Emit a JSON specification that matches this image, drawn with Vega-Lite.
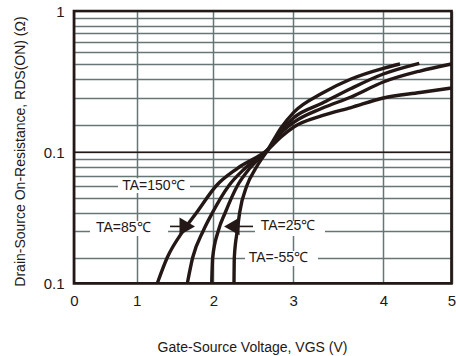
{
  "$schema": "https://vega.github.io/schema/vega-lite/v6.json",
  "width": 377.5,
  "height": 272.3,
  "autosize": {"type": "none"},
  "padding": {"left": 74, "top": 11, "right": 4.5, "bottom": 72.7},
  "background": "white",
  "config": {"view": {"stroke": null}, "font": "Liberation Sans"},
  "encoding": {
    "x": {
      "field": "vgs", "type": "quantitative",
      "scale": {"domain": [0, 1, 2, 3, 4, 5], "range": [0, 62.7, 139.3, 219.2, 309.3, 377.5], "nice": false, "zero": false},
      "axis": {
        "title": "Gate-Source Voltage, VGS (V)",
        "values": [0, 1, 2, 3, 4, 5],
        "grid": true, "gridColor": "#677575", "gridWidth": 1.5, "gridOpacity": 1,
        "domain": false, "ticks": false,
        "labelPadding": 10, "labelFontSize": 15, "labelFont": "Liberation Sans Narrow, Liberation Sans",
        "labelColor": "#231815", "labelFlush": false, "labelOverlap": false,
        "titleFontSize": 14, "titleFontWeight": "normal", "titleColor": "#231815",
        "titleX": 178, "titleY": 68.4, "titleBaseline": "alphabetic", "titleAlign": "center"
      }
    },
    "y": {
      "field": "r", "type": "quantitative",
      "scale": {
        "type": "log",
        "domain": [0.01, 0.02, 0.03, 0.04, 0.05, 0.06, 0.07, 0.08, 0.09, 0.1, 0.2, 0.3, 0.4, 0.5, 0.6, 0.7, 0.8, 0.9, 0.95, 1],
        "range": [272.3, 246.5, 219.7, 201.5, 187.3, 174.5, 164.5, 156, 148, 141.3, 113.7, 86.7, 68, 53, 41, 30.7, 22.3, 14.5, 7.3, 0],
        "nice": false
      },
      "axis": {
        "title": "Drain-Source On-Resistance, RDS(ON) (Ω)",
        "values": [0.01, 0.02, 0.03, 0.04, 0.05, 0.06, 0.07, 0.08, 0.09, 0.1, 0.2, 0.3, 0.4, 0.5, 0.6, 0.7, 0.8, 0.9, 0.95, 1],
        "labelExpr": "datum.value == 1 ? '1' : ((datum.value == 0.1 || datum.value == 0.01) ? '0.1' : '')",
        "grid": true, "gridColor": "#677575", "gridWidth": 1.5, "gridOpacity": 1,
        "domain": false, "ticks": false,
        "labelPadding": 10, "labelFontSize": 15, "labelFont": "Liberation Sans Narrow, Liberation Sans",
        "labelColor": "#231815", "labelOverlap": false, "labelFlush": false,
        "titleFontSize": 14, "titleFontWeight": "normal", "titleColor": "#231815",
        "titleFont": "Liberation Sans Narrow, Liberation Sans",
        "titleX": -54, "titleY": 140, "titleAngle": -90, "titleAlign": "center", "titleBaseline": "middle"
      }
    }
  },
  "layer": [
    {
      "data": {"values": [
        {"vgs": 0.702, "vgs2": 1.696, "r": 0.054, "r2": 0.067},
        {"vgs": 0.255, "vgs2": 1.409, "r": 0.0277, "r2": 0.035},
        {"vgs": 2.522, "vgs2": 3.353, "r": 0.0277, "r2": 0.035},
        {"vgs": 2.397, "vgs2": 3.275, "r": 0.0159, "r2": 0.0221}
      ]},
      "mark": {"type": "rect", "color": "white"},
      "encoding": {"x2": {"field": "vgs2"}, "y2": {"field": "r2"}}
    },
    {
      "data": {"values": [{"vgs": 0, "vgs2": 5, "r": 0.1}]},
      "mark": {"type": "rule", "color": "#231815", "strokeWidth": 1.6},
      "encoding": {"x2": {"field": "vgs2"}}
    },
    {
      "data": {"values": [
        {"label": "TA=150℃", "vgs": 1.217, "r": 0.06},
        {"label": "TA=85℃", "vgs": 0.786, "r": 0.0312},
        {"label": "TA=25℃", "vgs": 2.935, "r": 0.0323},
        {"label": "TA=-55℃", "vgs": 2.814, "r": 0.02}
      ]},
      "mark": {"type": "text", "fontSize": 14, "color": "#231815", "align": "center", "baseline": "middle"},
      "encoding": {"text": {"field": "label"}}
    },
    {
      "data": {"values": [
        {"vgs": 1.435, "vgs2": 1.631, "r": 0.0321},
        {"vgs": 2.272, "vgs2": 2.497, "r": 0.0321}
      ]},
      "mark": {"type": "rule", "color": "#231815", "strokeWidth": 1.6},
      "encoding": {"x2": {"field": "vgs2"}}
    },
    {
      "data": {"values": [{"vgs": 1.66, "r": 0.0321}]},
      "mark": {"type": "point", "shape": "triangle-right", "filled": true, "size": 320, "color": "#231815", "opacity": 1}
    },
    {
      "data": {"values": [{"vgs": 2.232, "r": 0.0321}]},
      "mark": {"type": "point", "shape": "triangle-left", "filled": true, "size": 320, "color": "#231815", "opacity": 1}
    },
    {
      "data": {"values": [
        {"temp": "150", "vgs": 1.269, "r": 0.01}, {"temp": "150", "vgs": 1.399, "r": 0.02}, {"temp": "150", "vgs": 1.608, "r": 0.03},
        {"temp": "150", "vgs": 1.783, "r": 0.04}, {"temp": "150", "vgs": 2.04, "r": 0.06}, {"temp": "150", "vgs": 2.303, "r": 0.0784},
        {"temp": "150", "vgs": 2.685, "r": 0.1073}, {"temp": "150", "vgs": 2.847, "r": 0.1468}, {"temp": "150", "vgs": 3.006, "r": 0.1888},
        {"temp": "150", "vgs": 3.32, "r": 0.2289}, {"temp": "150", "vgs": 3.642, "r": 0.2589}, {"temp": "150", "vgs": 4.0, "r": 0.2986},
        {"temp": "150", "vgs": 4.538, "r": 0.3249}, {"temp": "150", "vgs": 5.0, "r": 0.3482},
        {"temp": "85", "vgs": 1.661, "r": 0.01}, {"temp": "85", "vgs": 1.731, "r": 0.02}, {"temp": "85", "vgs": 1.869, "r": 0.03},
        {"temp": "85", "vgs": 1.99, "r": 0.04}, {"temp": "85", "vgs": 2.196, "r": 0.06}, {"temp": "85", "vgs": 2.397, "r": 0.0784},
        {"temp": "85", "vgs": 2.685, "r": 0.1073}, {"temp": "85", "vgs": 2.847, "r": 0.1624}, {"temp": "85", "vgs": 3.006, "r": 0.2073},
        {"temp": "85", "vgs": 3.32, "r": 0.2558}, {"temp": "85", "vgs": 3.642, "r": 0.3032}, {"temp": "85", "vgs": 4.0, "r": 0.382},
        {"temp": "85", "vgs": 4.538, "r": 0.4504}, {"temp": "85", "vgs": 5.0, "r": 0.5},
        {"temp": "25", "vgs": 1.979, "r": 0.01}, {"temp": "25", "vgs": 1.992, "r": 0.02}, {"temp": "25", "vgs": 2.063, "r": 0.03},
        {"temp": "25", "vgs": 2.15, "r": 0.04}, {"temp": "25", "vgs": 2.303, "r": 0.06}, {"temp": "25", "vgs": 2.456, "r": 0.0784},
        {"temp": "25", "vgs": 2.685, "r": 0.1073}, {"temp": "25", "vgs": 2.847, "r": 0.1707}, {"temp": "25", "vgs": 3.006, "r": 0.2221},
        {"temp": "25", "vgs": 3.32, "r": 0.2758}, {"temp": "25", "vgs": 3.642, "r": 0.3455}, {"temp": "25", "vgs": 4.0, "r": 0.4308},
        {"temp": "25", "vgs": 4.528, "r": 0.5053},
        {"temp": "-55", "vgs": 2.259, "r": 0.01}, {"temp": "-55", "vgs": 2.263, "r": 0.02}, {"temp": "-55", "vgs": 2.3, "r": 0.03},
        {"temp": "-55", "vgs": 2.33, "r": 0.04}, {"temp": "-55", "vgs": 2.421, "r": 0.06}, {"temp": "-55", "vgs": 2.531, "r": 0.0784},
        {"temp": "-55", "vgs": 2.685, "r": 0.1073}, {"temp": "-55", "vgs": 2.847, "r": 0.1841}, {"temp": "-55", "vgs": 3.006, "r": 0.2408},
        {"temp": "-55", "vgs": 3.32, "r": 0.3209}, {"temp": "-55", "vgs": 3.642, "r": 0.4}, {"temp": "-55", "vgs": 4.0, "r": 0.469},
        {"temp": "-55", "vgs": 4.245, "r": 0.5}
      ]},
      "mark": {"type": "line", "interpolate": "monotone", "color": "#231815", "strokeWidth": 3.4},
      "encoding": {"detail": {"field": "temp", "type": "nominal"}}
    },
    {
      "data": {"values": [{"vgs": 0, "vgs2": 5, "r": 0.01, "r2": 1}]},
      "mark": {"type": "rect", "filled": false, "color": "#231815", "strokeWidth": 2.7},
      "encoding": {"x2": {"field": "vgs2"}, "y2": {"field": "r2"}}
    }
  ]
}
